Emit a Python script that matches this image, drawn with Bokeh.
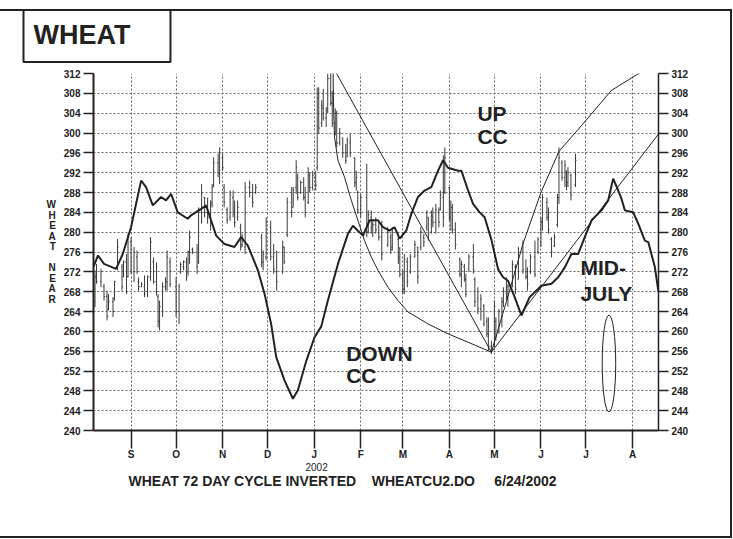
from bokeh.plotting import figure
from bokeh.models import Range1d, LinearAxis, FixedTicker, Title
from bokeh.core.properties import value
from bokeh.embed import file_html
from bokeh.resources import INLINE

# ---------------- data (x = days since 1 Sep 2001) ----------------
month_days = [0, 30, 61, 91, 122, 153, 181, 212, 242, 273, 303, 334]
month_labels = ["S", "O", "N", "D", "J", "F", "M", "A", "M", "J", "J", "A"]
price_ticks = [240, 244, 248, 252, 256, 260, 264, 268, 272, 276, 280, 284,
               288, 292, 296, 300, 304, 308, 312]

bar_day = [-24, -23, -20, -18, -16, -15, -12, -11, -9, -6, -5, -3, -2, 0, 2, 4, 5, 7, 9, 11,
           13, 15, 17, 18, 19, 21, 23, 24, 26, 30, 32, 33, 35, 37, 38, 39, 41, 44, 45, 47,
           49, 51, 53, 54, 55, 58, 59, 61, 62, 64, 66, 68, 69, 71, 73, 74, 76, 79, 81, 83,
           87, 88, 90, 93, 95, 97, 101, 102, 104, 107, 108, 110, 111, 113, 115, 116, 118, 119, 121, 123,
           124, 125, 127, 128, 130, 131, 133, 134, 136, 137, 139, 141, 143, 144, 146, 149, 150, 151, 153, 157,
           158, 160, 161, 163, 165, 167, 171, 173, 174, 178, 179, 181, 182, 184, 186, 189, 191, 193, 195, 197,
           198, 200, 201, 203, 205, 206, 208, 209, 212, 213, 214, 216, 219, 220, 222, 223, 225, 228, 229, 231,
           233, 235, 237, 238, 240, 242, 243, 245, 247, 248, 250, 251, 254, 256, 258, 261, 263, 264, 266, 269,
           271, 273, 274, 277, 278, 280, 282, 284, 285, 287, 289, 290, 291, 293, 296]
bar_high = [272.3, 273.6, 272.6, 269.6, 268.2, 267.5, 266.9, 270.2, 278.6, 273.6, 274.3, 275.6, 279.7, 279.0, 277.0, 276.3, 270.9, 269.9, 271.3, 271.3,
            279.0, 274.9, 273.9, 267.5, 266.2, 269.9, 270.9, 276.3, 274.9, 270.9, 269.6, 273.9, 274.3, 274.9, 276.3, 280.3, 276.9, 277.6, 285.0, 289.7,
            287.1, 287.0, 286.4, 289.7, 295.1, 295.8, 297.1, 295.8, 289.7, 285.0, 288.4, 288.4, 286.4, 286.4, 281.7, 279.7, 290.1, 290.4, 289.7, 289.7,
            279.7, 276.3, 283.0, 282.3, 277.6, 276.3, 278.3, 277.0, 287.0, 289.1, 289.1, 294.5, 291.8, 290.4, 291.1, 289.1, 293.1, 292.0, 292.4, 292.4,
            309.2, 309.2, 306.6, 308.9, 305.2, 312.0, 313.0, 308.5, 305.0, 304.5, 301.0, 299.0, 297.8, 299.1, 299.8, 295.1, 292.4, 288.4, 287.7, 293.8,
            284.4, 284.4, 282.3, 283.0, 282.3, 282.3, 281.0, 279.7, 281.0, 279.0, 277.0, 272.3, 275.6, 274.9, 275.6, 278.3, 277.0, 281.0, 279.7, 284.4,
            283.0, 284.4, 285.0, 285.7, 285.0, 288.4, 295.5, 297.1, 289.1, 286.4, 285.7, 282.0, 274.9, 274.3, 273.6, 271.6, 275.6, 277.6, 270.9, 268.9,
            267.5, 265.5, 262.8, 262.8, 258.1, 266.2, 262.8, 264.5, 266.9, 268.9, 270.9, 269.5, 274.3, 273.5, 277.0, 278.3, 274.5, 272.9, 275.6, 278.3,
            279.0, 283.0, 287.7, 287.0, 285.0, 279.0, 279.7, 287.7, 297.1, 294.5, 294.5, 292.5, 293.1, 291.8, 295.8]
bar_low = [264.9, 269.6, 268.9, 266.2, 262.2, 264.2, 262.9, 266.2, 272.3, 268.2, 270.9, 267.5, 270.9, 271.6, 269.9, 271.6, 268.2, 268.9, 266.9, 266.9,
           270.2, 269.6, 267.2, 260.8, 260.2, 262.9, 268.2, 268.2, 268.9, 262.9, 261.5, 271.6, 272.3, 270.2, 271.3, 273.6, 275.6, 271.6, 273.6, 281.7,
           283.0, 281.7, 280.3, 285.0, 289.1, 291.1, 289.7, 292.4, 285.0, 281.7, 282.3, 283.0, 281.0, 282.3, 276.3, 277.0, 275.6, 287.0, 285.0, 287.7,
           272.9, 272.3, 274.3, 274.3, 271.6, 268.2, 271.6, 273.6, 279.0, 283.0, 285.0, 287.7, 286.4, 287.7, 286.4, 283.0, 285.7, 288.0, 288.4, 288.4,
           292.4, 299.8, 301.2, 302.5, 301.2, 304.0, 305.5, 301.2, 299.5, 297.1, 297.5, 295.0, 293.8, 295.1, 295.1, 289.1, 288.4, 283.7, 283.0, 279.0,
           279.7, 279.7, 279.0, 279.7, 278.3, 274.3, 277.0, 275.6, 276.3, 273.6, 270.9, 267.5, 267.5, 268.9, 271.6, 274.9, 269.6, 276.3, 277.0, 280.3,
           278.3, 279.7, 281.0, 279.7, 281.0, 284.4, 281.0, 287.7, 282.3, 280.3, 279.7, 276.5, 270.9, 268.9, 270.0, 266.9, 272.0, 271.6, 264.9, 263.5,
           262.2, 261.0, 258.8, 256.1, 255.4, 256.8, 258.1, 259.5, 260.8, 264.9, 266.2, 265.0, 268.9, 267.5, 270.5, 271.6, 270.5, 268.2, 271.6, 270.9,
           275.6, 277.0, 280.3, 282.3, 279.7, 274.9, 277.0, 281.0, 285.7, 290.4, 289.1, 288.5, 289.1, 286.4, 289.1]
bar_open = [266.0, 271.0, 270.0, 269.0, 267.0, 264.5, 266.0, 266.5, 273.0, 273.0, 271.0, 274.0, 271.0, 278.0, 272.0, 275.0, 270.0, 269.0, 269.0, 268.0,
            271.0, 274.0, 270.0, 267.0, 262.0, 264.0, 269.0, 270.0, 274.0, 269.0, 264.0, 272.0, 273.0, 274.0, 272.0, 276.0, 276.5, 276.0, 274.0, 284.0,
            287.0, 284.0, 283.0, 286.0, 289.5, 294.0, 292.0, 295.0, 289.0, 284.5, 283.0, 287.0, 284.0, 283.0, 281.0, 277.5, 277.0, 289.0, 288.0, 288.0,
            279.0, 274.0, 275.0, 281.0, 275.0, 272.0, 272.0, 277.0, 279.5, 286.0, 285.0, 289.0, 291.0, 288.0, 290.0, 287.0, 286.0, 291.5, 289.0, 291.0,
            293.0, 307.0, 302.0, 305.0, 303.0, 305.0, 311.0, 306.0, 302.0, 304.0, 298.0, 299.0, 296.0, 295.2, 298.0, 295.0, 290.0, 288.0, 284.0, 287.0,
            280.0, 283.0, 281.0, 281.5, 281.0, 279.0, 277.5, 279.0, 277.0, 278.5, 275.0, 271.5, 268.5, 274.0, 272.0, 275.0, 277.0, 277.0, 279.0, 281.0,
            283.0, 280.0, 283.0, 282.0, 284.0, 284.5, 287.0, 288.0, 289.0, 283.0, 285.0, 280.5, 274.5, 271.5, 273.0, 270.5, 272.5, 275.0, 270.5, 266.5,
            264.5, 265.0, 262.0, 259.5, 257.0, 257.0, 262.0, 260.0, 263.0, 266.0, 268.0, 267.0, 269.0, 273.0, 270.5, 276.0, 272.0, 271.0, 272.0, 275.0,
            276.0, 278.0, 282.0, 286.0, 283.0, 278.5, 277.2, 281.5, 287.0, 294.0, 291.0, 292.0, 290.0, 291.5, 289.5]
bar_close = [271.0, 270.0, 272.0, 267.0, 263.0, 266.0, 264.0, 270.0, 277.0, 269.0, 274.0, 268.0, 279.0, 272.0, 276.0, 272.0, 269.0, 269.5, 267.5, 271.0,
             278.0, 270.0, 268.0, 262.0, 265.0, 269.0, 270.0, 275.0, 269.5, 264.0, 269.0, 273.5, 274.0, 271.0, 276.0, 279.0, 276.0, 273.0, 284.0, 288.0,
             284.0, 283.0, 285.5, 289.0, 294.0, 292.0, 296.0, 293.0, 286.0, 282.5, 287.5, 284.0, 282.0, 285.0, 277.0, 279.0, 289.0, 288.0, 286.0, 289.0,
             274.0, 275.5, 282.0, 275.0, 272.5, 270.0, 277.0, 274.0, 286.0, 284.0, 288.5, 293.0, 287.0, 290.0, 287.0, 284.0, 292.0, 289.0, 291.5, 289.5,
             308.0, 301.0, 305.5, 303.0, 304.5, 311.0, 306.0, 302.0, 304.0, 298.0, 300.0, 296.0, 294.5, 298.5, 296.0, 290.0, 291.0, 284.5, 287.0, 280.0,
             283.5, 281.0, 281.5, 280.5, 279.0, 275.5, 280.0, 276.5, 280.0, 274.5, 271.5, 268.5, 274.5, 270.0, 275.0, 277.5, 271.0, 280.0, 278.0, 284.0,
             279.5, 283.5, 282.0, 284.5, 282.0, 287.5, 283.0, 295.0, 283.5, 285.0, 280.5, 277.5, 271.5, 273.5, 270.5, 267.5, 275.0, 272.5, 266.0, 264.5,
             266.5, 261.5, 259.5, 257.0, 256.5, 265.0, 259.0, 264.0, 266.0, 268.0, 267.0, 269.0, 273.5, 268.5, 276.0, 272.5, 271.0, 269.5, 275.0, 271.5,
             278.5, 282.0, 287.0, 283.0, 280.5, 276.0, 279.0, 287.0, 295.0, 291.0, 293.5, 289.5, 292.0, 287.5, 294.5]

# thick 72-day inverted cycle line
cycle_day = [-25, -22, -18, -10, -5.5, 0, 6.7, 10, 14.5, 20, 23.3, 26.7, 31.1, 37.8, 40, 46.7, 50, 53.3, 56.7, 62.2,
             68.9, 73.3, 77.8, 84.5, 88.9, 93.3, 96.7, 102.2, 107.8, 111.1, 116.7, 122.2, 126.7, 131.1, 137.8, 144.5, 147.8, 151.1, 154.5, 158.9,
             164.5, 167.8, 172.2, 175.5, 178.9, 183.3, 186.7, 191.1, 195.5, 200, 204.5, 207.8, 211.1, 217.8, 220, 224.5, 227.8, 232.2, 235.5, 240,
             244.5, 247.8, 251.1, 255.5, 260, 265.5, 273.3, 280, 284.5, 288.9, 293.3, 297.8, 302.2, 306.7, 313.3, 317.8, 321.1, 324.5, 326.7, 328.9,
             334.5, 337.8, 342.2, 344.5, 348.9, 351.3]
cycle_price = [273.0, 275.3, 273.6, 272.6, 275.6, 281.0, 290.4, 289.1, 285.4, 287.1, 286.4, 287.7, 284.0, 282.7, 283.4, 284.7, 285.4, 282.4, 279.3, 277.6,
               277.0, 279.0, 277.3, 272.3, 267.6, 261.5, 254.8, 250.1, 246.4, 248.1, 254.0, 258.8, 261.0, 266.2, 273.6, 279.7, 281.3, 280.3, 279.3, 282.4,
               282.4, 281.0, 280.3, 281.0, 278.7, 280.3, 283.7, 287.1, 288.4, 289.1, 292.4, 294.5, 293.0, 292.4, 292.4, 288.4, 285.7, 284.0, 283.0, 278.5,
               272.5, 270.9, 270.2, 266.9, 263.2, 266.9, 269.2, 269.6, 270.9, 272.9, 275.6, 275.6, 279.0, 282.4, 284.4, 286.4, 290.8, 288.4, 286.7, 284.4,
               284.0, 281.7, 278.3, 278.0, 272.9, 267.9]

# cycle-channel lines
down_line_day = [134.5, 240]
down_line_price = [313.3, 255.8]
down_cc_day = [134.5, 134.9, 135.5, 137.8, 142.2, 146.7, 151.1, 155.5, 160, 164.5, 171.1, 177.8, 184.5, 197.8, 211.1, 224.5, 240]
down_cc_price = [313.3, 305.0, 299.2, 294.5, 291.1, 286.4, 282.4, 278.3, 275.0, 272.3, 268.9, 266.2, 263.9, 261.5, 259.5, 257.8, 255.8]
up_cc_day = [240, 250, 261, 273, 285, 300, 320, 338.7]
up_cc_price = [255.8, 266.0, 277.6, 288.0, 296.3, 301.5, 308.6, 312.1]
up_line_day = [240, 351.3]
up_line_price = [255.8, 299.8]

# mid-July window
window_day = [318.3]
window_price = [253.5]

ann_text = ["UP", "CC", "DOWN", "CC", "MID-", "JULY"]
ann_day = [230.7, 230.7, 143.3, 143.3, 299.3, 299.3]
ann_price = [304.0, 299.3, 255.6, 251.1, 272.8, 267.7]

caption = "WHEAT 72 DAY CYCLE INVERTED\u00a0\u00a0\u00a0\u00a0WHEATCU2.DO\u00a0\u00a0\u00a0\u00a0\u00a06/24/2002"

# ---------------- figure ----------------
FONT = "Liberation Sans"
INK = "#222222"
W, H = 732, 538
p = figure(width=W, height=H, output_backend="svg", toolbar_location=None,
           x_range=Range1d(-25, 351.3), y_range=Range1d(240, 312),
           min_border_left=93, min_border_right=74, min_border_top=73, min_border_bottom=108,
           outline_line_color=None, background_fill_color="white",
           border_fill_color="white", border_fill_alpha=0,
           styles={"box-shadow": "inset 0 9px 0 0 #ffffff, inset 0 11px 0 0 #222222, "
                                 "inset -2px 0 0 0 #222222, inset 0 -2px 0 0 #222222"})

# axes
def style_y(ax, lw):
    ax.ticker = FixedTicker(ticks=price_ticks)
    ax.major_tick_out = 10
    ax.major_tick_in = 0
    ax.minor_tick_line_color = None
    ax.axis_line_width = lw
    ax.axis_line_color = INK
    ax.major_tick_line_color = INK
    ax.major_tick_line_width = 1.5
    ax.major_label_text_font = FONT
    ax.major_label_text_font_style = "bold"
    ax.major_label_text_font_size = "10px"
    ax.major_label_text_color = INK
    ax.major_label_standoff = 3

ya = p.yaxis[0]
style_y(ya, 2)
ya.axis_label = "W\nH\nE\nA\nT\n\nN\nE\nA\nR"
ya.axis_label_text_font = FONT
ya.axis_label_text_font_style = "bold"
ya.axis_label_text_font_size = "10px"
ya.axis_label_text_color = INK
ya.axis_label_text_line_height = 0.96
ya.axis_label_standoff = 5
if "axis_label_orientation" in ya.properties():
    ya.axis_label_orientation = "horizontal"

right = LinearAxis()
style_y(right, 1.5)
p.add_layout(right, "right")

xa = p.xaxis[0]
xa.ticker = FixedTicker(ticks=month_days)
xa.major_label_overrides = {d: s for d, s in zip(month_days, month_labels)}
xa.major_tick_out = 18
xa.major_tick_in = 0
xa.minor_tick_line_color = None
xa.axis_line_width = 2
xa.axis_line_color = INK
xa.major_tick_line_color = INK
xa.major_tick_line_width = 1.5
xa.major_label_text_font = FONT
xa.major_label_text_font_style = "bold"
xa.major_label_text_font_size = "10px"
xa.major_label_text_color = INK
xa.major_label_standoff = 0

for g in (p.xgrid[0], p.ygrid[0]):
    g.grid_line_color = "#666666"
    g.grid_line_dash = "2 2"
    g.grid_line_width = 1
p.ygrid[0].ticker = FixedTicker(ticks=price_ticks)

# price bars
p.segment(x0=bar_day, y0=bar_low, x1=bar_day, y1=bar_high, line_color="#3a3a3a", line_width=1)
p.segment(x0=[d - 0.7 for d in bar_day], y0=bar_open, x1=bar_day, y1=bar_open,
          line_color="#3a3a3a", line_width=1)
p.segment(x0=bar_day, y0=bar_close, x1=[d + 0.7 for d in bar_day], y1=bar_close,
          line_color="#3a3a3a", line_width=1)

# cycle and channel lines
p.line(cycle_day, cycle_price, line_color=INK, line_width=2)
p.line(down_line_day, down_line_price, line_color=INK, line_width=1)
p.line(down_cc_day, down_cc_price, line_color=INK, line_width=1)
p.line(up_cc_day, up_cc_price, line_color=INK, line_width=1)
p.line(up_line_day, up_line_price, line_color=INK, line_width=1)
p.ellipse(x=window_day, y=window_price, width=9, height=19.5,
          fill_color=None, line_color=INK, line_width=1)

p.text(x=ann_day, y=ann_price, text=ann_text, text_font=value(FONT),
       text_font_style="bold", text_font_size="21px", text_color=INK,
       text_align="left", text_baseline="middle")

# ---------------- titles (boxed name above, caption below) ----------------
t = p.title
t.text = "WHEAT"
t.align = "left"
t.vertical_align = "top"
t.offset = -70
t.standoff = 19
t.text_font = FONT
t.text_font_size = "27px"
t.text_font_style = "bold"
t.text_color = INK
t.border_line_color = INK
t.border_line_width = 2
try:
    t.padding = dict(left=10, right=40, top=10, bottom=12)
except Exception:
    t.padding = 12

p.add_layout(Title(text="2002", align="left", offset=212, standoff=0, vertical_align="top",
                   text_font=FONT, text_font_size="10px", text_font_style="normal",
                   text_color=INK), "below")
p.add_layout(Title(text=caption, align="left", offset=35, standoff=0, vertical_align="top",
                   text_font=FONT, text_font_size="14px", text_font_style="bold",
                   text_color=INK), "below")

open("out.html", "w").write(file_html(p, INLINE))
